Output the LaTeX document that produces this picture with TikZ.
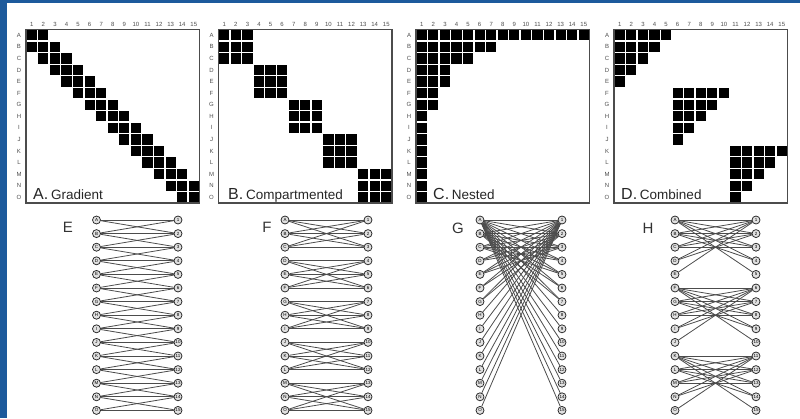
\documentclass[tikz,border=0pt]{standalone}
\usepackage{fontspec}
\setmainfont{Liberation Sans}
\usepackage{tikz}
\usetikzlibrary{calc}
\definecolor{borderblue}{HTML}{1D5A9C}
\colorlet{inkc}{black!85}
\colorlet{linkc}{black!70}
\tikzstyle{cell} = [fill=black]
\tikzstyle{gridbox} = [
    draw=black!70,
    line width=1.1pt
    ]
\tikzstyle{ticklabel} = [
    font=\fontsize{6}{6}\selectfont,
    text=black!70,
    inner sep=0pt
    ]
\tikzstyle{vertex} = [
    circle,
    draw=inkc,
    fill=black!12,
    line width=0.75pt,
    inner sep=0pt,
    minimum size=8pt,
    font=\fontsize{4.5}{4.5}\selectfont
    ]
\tikzstyle{link} = [draw=linkc, line width=0.8pt]
\tikzstyle{panelletter} = [font=\fontsize{15}{15}\selectfont, text=black!80]
\tikzstyle{gridtitle} = [anchor=base west, inner sep=0pt, text=black!85]
\newcommand{\cellsize}{11.57}
\newcommand{\rowletters}{1/A,2/B,3/C,4/D,5/E,6/F,7/G,8/H,9/I,10/J,11/K,12/L,13/M,14/N,15/O}
% row / first column / last column
\newcommand{\gradientrows}{1/1/2,2/1/3,3/2/4,4/3/5,5/4/6,6/5/7,7/6/8,8/7/9,9/8/10,10/9/11,11/10/12,12/11/13,13/12/14,14/13/15,15/14/15}
\newcommand{\comprows}{1/1/3,2/1/3,3/1/3,4/4/6,5/4/6,6/4/6,7/7/9,8/7/9,9/7/9,10/10/12,11/10/12,12/10/12,13/13/15,14/13/15,15/13/15}
\newcommand{\nestedrows}{1/1/15,2/1/7,3/1/5,4/1/3,5/1/3,6/1/2,7/1/2,8/1/1,9/1/1,10/1/1,11/1/1,12/1/1,13/1/1,14/1/1,15/1/1}
\newcommand{\combrows}{1/1/5,2/1/4,3/1/3,4/1/2,5/1/1,6/6/10,7/6/9,8/6/8,9/6/7,10/6/6,11/11/15,12/11/14,13/11/13,14/11/12,15/11/11}
\newcommand{\titletext}[2]{{\fontsize{16}{16}\selectfont #1.}\ {\fontsize{13.5}{14}\selectfont #2}}
\newcommand{\matrixpanel}[5]{% name, top left, rows, title shift, title
\begin{scope}[shift={(#2)}]
  \draw[gridbox] (0,0) rectangle (173.5,173.5);
  \foreach \c in {1,...,15}
    \node[ticklabel] (#1-top\c) at ({(\c-0.5)*\cellsize},-5) {\c};
  \foreach \r/\l in \rowletters
    \node[ticklabel] (#1-side\r) at (-7,{(\r-0.5)*\cellsize}) {\l};
  \foreach \r/\a/\b in #3
    \foreach \c in {\a,...,\b}
      \fill[cell] ({(\c-1)*\cellsize+0.7},{(\r-1)*\cellsize+0.7}) rectangle ++(10.17,10.17);
  \node[gridtitle] (#1-title) at (#4,169.5) {#5};
\end{scope}}
\newcommand{\networkpanel}[4]{% name, left x, right x, rows
  \foreach \r/\l in \rowletters
    \node[vertex] (#1-r\r) at (#2,{220+(\r-1)*13.6}) {\l};
  \foreach \c in {1,...,15}
    \node[vertex] (#1-c\c) at (#3,{220+(\c-1)*13.6}) {\c};
  \foreach \r/\a/\b in #4
    \foreach \c in {\a,...,\b}
      \draw[link] (#1-r\r) -- (#1-c\c);
}

\begin{document}
\begin{tikzpicture}[x=1pt,y=-1pt]
\useasboundingbox (0,0) rectangle (800,418);
\fill[borderblue] (0,0) rectangle (7,418);
\fill[borderblue] (0,0) rectangle (800,3);

\matrixpanel{gradient}{26,29.5}{\gradientrows}{7}{\titletext{A}{Gradient}}
\matrixpanel{compart}{218.5,29.5}{\comprows}{9.5}{\titletext{B}{Compartmented}}
\matrixpanel{nested}{416,29.5}{\nestedrows}{17}{\titletext{C}{Nested}}
\matrixpanel{combined}{614,29.5}{\combrows}{7}{\titletext{D}{Combined}}

\node[panelletter] (labelE) at (68,227) {E};
\node[panelletter] (labelF) at (267,227) {F};
\node[panelletter] (labelG) at (458,228) {G};
\node[panelletter] (labelH) at (648,228) {H};

\networkpanel{E}{96.5}{178}{\gradientrows}
\networkpanel{F}{285}{368}{\comprows}
\networkpanel{G}{480}{562}{\nestedrows}
\networkpanel{H}{675}{756}{\combrows}
\end{tikzpicture}
\end{document}
